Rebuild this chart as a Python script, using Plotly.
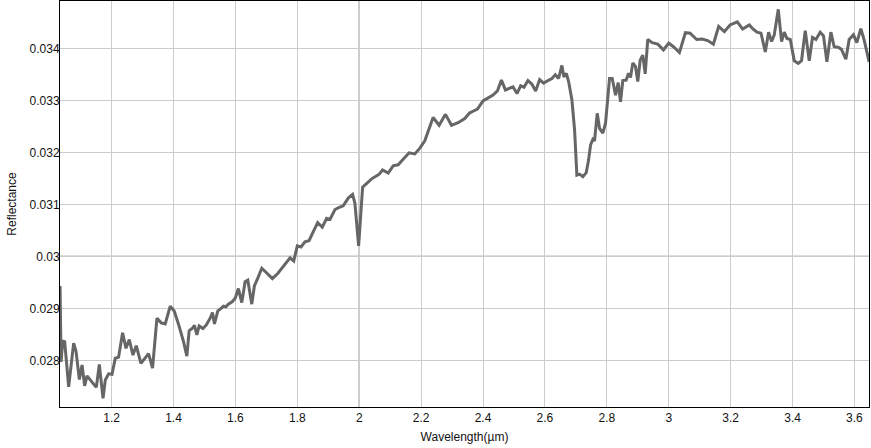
import plotly.graph_objects as go

wavelength = [
    1.0335, 1.0368, 1.042, 1.0484, 1.0613, 1.0774, 1.0852, 1.0958, 1.1045, 1.1129,
    1.1206, 1.1313, 1.1419, 1.1506, 1.1603, 1.1723, 1.1797, 1.1903, 1.2013, 1.2119,
    1.2226, 1.2355, 1.2465, 1.2571, 1.2690, 1.2797, 1.2948, 1.3065, 1.3194, 1.3323,
    1.3465, 1.3603, 1.3732, 1.3894, 1.4023, 1.4184, 1.4323, 1.4432, 1.4506, 1.4613,
    1.4677, 1.4755, 1.4829, 1.4950, 1.5060, 1.5184, 1.5258, 1.5323, 1.5432, 1.5539,
    1.5613, 1.5690, 1.5774, 1.5903, 1.5990, 1.6097, 1.6206, 1.6313, 1.6400, 1.6529,
    1.6613, 1.6723, 1.6852, 1.7013, 1.7194, 1.7368, 1.7516, 1.7658, 1.7765, 1.7884,
    1.8000, 1.8119, 1.8248, 1.8377, 1.8516, 1.8658, 1.8806, 1.8948, 1.9055, 1.9216,
    1.9355, 1.9484, 1.9645, 1.9787, 1.9861, 1.9981, 2.0110, 2.0258, 2.0400, 2.0539,
    2.0645, 2.0755, 2.0935, 2.1097, 2.1258, 2.1442, 2.1613, 2.1797, 2.1958, 2.2119,
    2.2226, 2.2387, 2.2581, 2.2787, 2.2981, 2.3194, 2.3410, 2.3571, 2.3677, 2.3819,
    2.4000, 2.4161, 2.4323, 2.4465, 2.4594, 2.4723, 2.4861, 2.4968, 2.5097, 2.5216,
    2.5323, 2.5452, 2.5581, 2.5700, 2.5829, 2.5958, 2.6097, 2.6226, 2.6335, 2.6442,
    2.6548, 2.6613, 2.6690, 2.6765, 2.6871, 2.6958, 2.7032, 2.7119, 2.7226, 2.7335,
    2.7410, 2.7474, 2.7548, 2.7603, 2.7690, 2.7765, 2.7871, 2.7958, 2.8087, 2.8174,
    2.8281, 2.8368, 2.8442, 2.8516, 2.8626, 2.8700, 2.8765, 2.8839, 2.8926, 2.9000,
    2.9077, 2.9161, 2.9239, 2.9323, 2.9465, 2.9645, 2.9829, 3.0000, 3.0152, 3.0345,
    3.0539, 3.0690, 3.0903, 3.1077, 3.1258, 3.1442, 3.1613, 3.1797, 3.1981, 3.2174,
    3.2216, 3.2387, 3.2603, 3.2710, 3.2852, 3.2981, 3.3119, 3.3226, 3.3323, 3.3410,
    3.3539, 3.3645, 3.3732, 3.3819, 3.3926, 3.4055, 3.4184, 3.4290, 3.4410, 3.4539,
    3.4645, 3.4755, 3.4894, 3.5000, 3.5110, 3.5239, 3.5345, 3.5474, 3.5581, 3.5723,
    3.5829, 3.5968, 3.6077, 3.6206, 3.6313, 3.6474,
]

reflectance = [
    0.02943, 0.02797, 0.02837, 0.02836, 0.02749, 0.02833, 0.02817, 0.02763, 0.02791, 0.02751,
    0.02770, 0.02762, 0.02754, 0.02748, 0.02792, 0.02727, 0.02762, 0.02774, 0.02773, 0.02804,
    0.02806, 0.02853, 0.02823, 0.02840, 0.02810, 0.02828, 0.02794, 0.02802, 0.02813, 0.02785,
    0.02881, 0.02872, 0.02870, 0.02904, 0.02895, 0.02865, 0.02836, 0.02808, 0.02857, 0.02862,
    0.02867, 0.02849, 0.02866, 0.02861, 0.02868, 0.02881, 0.02892, 0.02870, 0.02895, 0.02900,
    0.02904, 0.02903, 0.02908, 0.02913, 0.02919, 0.02938, 0.02911, 0.02951, 0.02954, 0.02908,
    0.02943, 0.02958, 0.02977, 0.02968, 0.02957, 0.02967, 0.02979, 0.02990, 0.02997, 0.02991,
    0.03020, 0.03018, 0.03028, 0.03030, 0.03049, 0.03065, 0.03056, 0.03073, 0.03071, 0.03090,
    0.03094, 0.03097, 0.03112, 0.03119, 0.03102, 0.03020, 0.03133, 0.03142, 0.03149, 0.03154,
    0.03158, 0.03166, 0.03160, 0.03174, 0.03176, 0.03188, 0.03199, 0.03197, 0.03208, 0.03222,
    0.03240, 0.03267, 0.03252, 0.03273, 0.03252, 0.03257, 0.03265, 0.03276, 0.03279, 0.03283,
    0.03299, 0.03304, 0.03310, 0.03318, 0.03339, 0.03320, 0.03323, 0.03326, 0.03313, 0.03328,
    0.03325, 0.03338, 0.03331, 0.03318, 0.03340, 0.03333, 0.03338, 0.03342, 0.03349, 0.03342,
    0.03367, 0.03345, 0.03352, 0.03336, 0.03301, 0.03243, 0.03156, 0.03158, 0.03153, 0.03161,
    0.03185, 0.03214, 0.03225, 0.03222, 0.03275, 0.03246, 0.03237, 0.03256, 0.03342, 0.03342,
    0.03310, 0.03334, 0.03297, 0.03338, 0.03339, 0.03352, 0.03344, 0.03372, 0.03365, 0.03336,
    0.03377, 0.03387, 0.03351, 0.03417, 0.03411, 0.03408, 0.03397, 0.03410, 0.03403, 0.03392,
    0.03430, 0.03429, 0.03417, 0.03418, 0.03415, 0.03408, 0.03442, 0.03432, 0.03445, 0.03449,
    0.03451, 0.03437, 0.03445, 0.03438, 0.03431, 0.03429, 0.03393, 0.03431, 0.03413, 0.03426,
    0.03475, 0.03413, 0.03431, 0.03419, 0.03417, 0.03376, 0.03371, 0.03376, 0.03434, 0.03376,
    0.03421, 0.03417, 0.03431, 0.03424, 0.03374, 0.03431, 0.03403, 0.03402, 0.03398, 0.03379,
    0.03417, 0.03426, 0.03411, 0.03438, 0.03416, 0.03374,
]

x_ticks = [1.2, 1.4, 1.6, 1.8, 2.0, 2.2, 2.4, 2.6, 2.8, 3.0, 3.2, 3.4, 3.6]
x_tick_labels = ["1.2", "1.4", "1.6", "1.8", "2", "2.2", "2.4", "2.6", "2.8", "3", "3.2", "3.4", "3.6"]
y_ticks = [0.028, 0.029, 0.030, 0.031, 0.032, 0.033, 0.034]
y_tick_labels = ["0.028", "0.029", "0.03", "0.031", "0.032", "0.033", "0.034"]

x_range = [1.0333, 3.647]
y_range = [0.027102, 0.03491]

fig = go.Figure()
fig.add_trace(go.Scatter(
    x=wavelength, y=reflectance, mode="lines",
    line=dict(color="#666666", width=3),
    showlegend=False, hoverinfo="skip",
))

fig.add_vline(x=2.0, line=dict(color="#555555", width=1), layer="below")
fig.add_hline(y=0.030, line=dict(color="#555555", width=1), layer="below")

fig.update_layout(
    width=871, height=448,
    margin=dict(l=60, r=2, t=1, b=41),
    paper_bgcolor="white", plot_bgcolor="white",
    font=dict(family="Liberation Sans, Arial, sans-serif", size=12, color="#111111"),
    showlegend=False,
)
fig.update_xaxes(
    range=x_range, tickvals=x_ticks, ticktext=x_tick_labels,
    showgrid=True, gridcolor="#cccccc", gridwidth=1,
    showline=True, linecolor="#000000", linewidth=1, mirror=True,
    ticks="", zeroline=False,
    title=dict(text="Wavelength(µm)", standoff=8, font=dict(size=12)),
    automargin=False,
)
fig.update_yaxes(
    range=y_range, tickvals=y_ticks, ticktext=y_tick_labels,
    showgrid=True, gridcolor="#cccccc", gridwidth=1,
    showline=True, linecolor="#000000", linewidth=1, mirror=True,
    ticks="", zeroline=False, ticklabelstandoff=-3,
    title=dict(text="Reflectance", standoff=10, font=dict(size=12)),
    automargin=False,
)

fig.write_html(
    "out.html",
    config={"displayModeBar": False},
    post_script="document.body.style.margin='0';document.body.style.padding='0';document.body.style.overflow='hidden';",
)
